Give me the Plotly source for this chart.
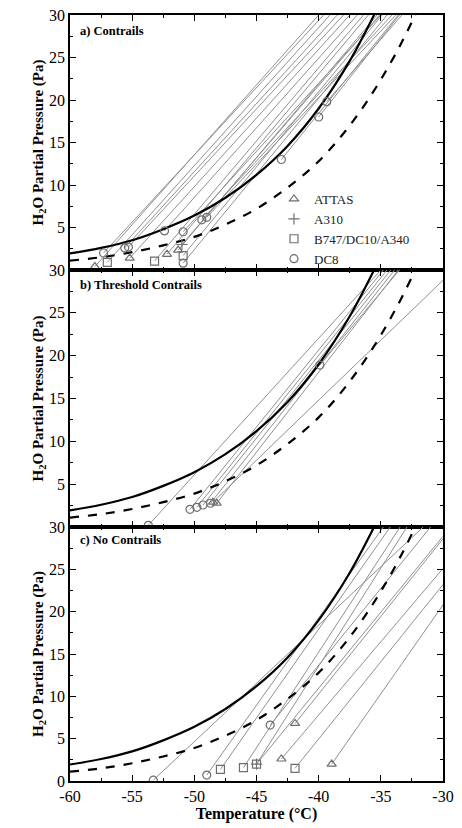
import plotly.graph_objects as go

# ---------------- data ----------------
# threshold curves
curve_T = [-60, -57.5, -55, -52.5, -50, -47.5, -45, -42.5, -40, -37.5, -35]
curve_solid = [1.95, 2.6, 3.5, 4.8, 6.4, 8.5, 11.2, 14.6, 19.0, 24.6, 31.6]
dash_T = [-60, -57.5, -55, -52.5, -50, -47.5, -45, -42.5, -40, -37.5, -35, -32.5, -30]
curve_dash = [1.1, 1.5, 2.1, 2.9, 3.9, 5.35, 7.2, 9.7, 12.8, 17.0, 22.4, 29.2, 38.0]

aircraft = ["ATTAS", "A310", "B747/DC10/A340", "DC8"]

# panel a) Contrails : start point, end point, aircraft
a_T0 = [-58.0, -57.3, -57.0, -55.6, -55.3, -55.2, -52.4, -53.2, -52.2, -51.3, -51.0,
        -50.9, -50.9, -50.9, -49.4, -49.0, -43.0, -40.0, -39.35]
a_e0 = [0.4, 2.0, 0.9, 2.6, 2.7, 1.4, 4.6, 1.05, 1.85, 2.35, 3.0,
        1.7, 0.8, 4.5, 5.9, 6.2, 13.0, 18.0, 19.8]
a_T1 = [-40.0, -39.6, -39.1, -38.5, -38.0, -37.5, -36.9, -36.4, -36.0, -35.3, -35.1,
        -34.9, -34.5, -35.0, -34.1, -33.8, -33.6, -33.5, -33.3]
a_e1 = [30] * 19
a_ac = ["ATTAS", "DC8", "B747/DC10/A340", "DC8", "DC8", "ATTAS", "DC8", "B747/DC10/A340",
        "ATTAS", "ATTAS", "A310", "B747/DC10/A340", "DC8", "DC8", "DC8", "DC8", "DC8",
        "DC8", "DC8"]

# panel b) Threshold Contrails
b_T0 = [-53.7, -50.35, -49.8, -49.3, -48.7, -48.2, -48.5, -39.9]
b_e0 = [0.2, 2.06, 2.3, 2.57, 2.77, 2.77, 2.9, 18.9]
b_T1 = [-35.0, -34.8, -34.5, -34.2, -33.9, -33.6, -30.0, -33.5]
b_e1 = [30, 30, 30, 30, 30, 30, 28.8, 30]
b_ac = ["DC8", "DC8", "DC8", "DC8", "DC8", "ATTAS", "ATTAS", "DC8"]

# panel c) No Contrails
c_T0 = [-53.3, -49.0, -47.9, -46.05, -45.0, -45.0, -43.9, -43.0, -41.9, -41.9, -38.95]
c_e0 = [0.1, 0.7, 1.37, 1.57, 2.0, 2.0, 6.6, 2.6, 6.8, 1.5, 2.0]
c_T1 = [-31.6, -34.8, -34.25, -33.45, -32.9, -30.0, -31.0, -30.0, -30.0, -30.0, -30.0]
c_e1 = [30, 30, 30, 30, 30, 28.9, 30, 25.1, 28.6, 23.2, 20.8]
c_ac = ["DC8", "DC8", "B747/DC10/A340", "B747/DC10/A340", "B747/DC10/A340", "A310",
        "DC8", "ATTAS", "ATTAS", "B747/DC10/A340", "ATTAS"]

panel_titles = ["a) Contrails", "b) Threshold Contrails", "c) No Contrails"]
x_ticks = [-60, -55, -50, -45, -40, -35, -30]
x_tick_text = ["-60", "-55", "-50", "-45", "-40", "-35", "-30"]
y_ticks_full = [0, 5, 10, 15, 20, 25, 30]
y_ticks_upper = [5, 10, 15, 20, 25, 30]

# ---------------- styling ----------------
SERIF = "Liberation Serif, Times New Roman, serif"
LINE_GRAY = "#909090"
MARK_GRAY = "#6e6e6e"
symbols = {"ATTAS": "triangle-up-open", "A310": "cross-thin-open",
           "B747/DC10/A340": "square-open", "DC8": "circle-open"}

# the page body adds an 8px offset; figure sized so it fills the 462x828 window
OFF = 8
W, H = 462 - OFF, 828 - OFF
PL, PR, PT, PB = 70, 443, 15, 781          # plot area in window pixels
L, T = PL - OFF, PT - OFF
R = W - (PR - OFF)
B = H - (PB - OFF)
plot_w = PR - PL
plot_h = PB - PT
edges = [(15, 270), (270, 527), (527, 781)]
domains = []
for top, bot in edges:
    domains.append([1 - (bot - PT) / plot_h, 1 - (top - PT) / plot_h])

fig = go.Figure()

panels = [(a_T0, a_e0, a_T1, a_e1, a_ac), (b_T0, b_e0, b_T1, b_e1, b_ac),
          (c_T0, c_e0, c_T1, c_e1, c_ac)]

for p, (T0, E0, T1, E1, AC) in enumerate(panels):
    xa = "x" if p == 0 else f"x{p+1}"
    ya = "y" if p == 0 else f"y{p+1}"
    for i in range(len(T0)):
        fig.add_trace(go.Scatter(x=[T0[i], T1[i]], y=[E0[i], E1[i]], mode="lines",
                                 line=dict(color=LINE_GRAY, width=1), xaxis=xa, yaxis=ya,
                                 showlegend=False, hoverinfo="skip"))
    fig.add_trace(go.Scatter(x=curve_T, y=curve_solid, mode="lines", line_shape="spline",
                             line=dict(color="black", width=2.2), xaxis=xa, yaxis=ya,
                             showlegend=False))
    fig.add_trace(go.Scatter(x=dash_T, y=curve_dash, mode="lines", line_shape="spline",
                             line=dict(color="black", width=2.2, dash="dash"),
                             xaxis=xa, yaxis=ya, showlegend=False))
    for ac in aircraft:
        xs = [T0[i] for i in range(len(T0)) if AC[i] == ac]
        ys = [E0[i] for i in range(len(T0)) if AC[i] == ac]
        fig.add_trace(go.Scatter(x=xs if xs else [None], y=ys if ys else [None],
                                 mode="markers", name=ac,
                                 marker=dict(symbol=symbols[ac], size=8, color=MARK_GRAY,
                                             line=dict(color=MARK_GRAY, width=1.2)),
                                 xaxis=xa, yaxis=ya, showlegend=(p == 0)))

axis_common = dict(showline=True, linecolor="black", linewidth=1.6, mirror="ticks",
                   ticks="inside", ticklen=6, tickwidth=1.2, tickcolor="black",
                   showgrid=False, zeroline=False, ticklabeloverflow="allow",
                   tickfont=dict(family=SERIF, size=16, color="black"))

layout = dict(width=W, height=H, margin=dict(l=L, r=R, t=T, b=B, autoexpand=False),
              paper_bgcolor="white", plot_bgcolor="white",
              font=dict(family=SERIF, color="black"))

for p in range(3):
    xk = "xaxis" if p == 0 else f"xaxis{p+1}"
    yk = "yaxis" if p == 0 else f"yaxis{p+1}"
    ya = "y" if p == 0 else f"y{p+1}"
    xa = "x" if p == 0 else f"x{p+1}"
    xaxis = dict(axis_common, range=[-60, -30], anchor=ya, domain=[0, 1],
                 tickmode="array", tickvals=x_ticks, ticktext=x_tick_text,
                 minor=dict(ticks="inside", ticklen=3, dtick=2.5, tick0=-60,
                            tickcolor="black", tickwidth=1),
                 showticklabels=(p == 2))
    if p == 2:
        xaxis["title"] = dict(text="<b>Temperature (°C)</b>",
                              font=dict(family=SERIF, size=16), standoff=4)
    yv = y_ticks_full if p == 2 else y_ticks_upper
    yaxis = dict(axis_common, range=[0, 30], anchor=xa, domain=domains[p],
                 tickmode="array", tickvals=yv, ticktext=[str(v) for v in yv],
                 minor=dict(ticks="inside", ticklen=3, dtick=2.5, tick0=0,
                            tickcolor="black", tickwidth=1),
                 title=dict(text="<b>H<sub>2</sub>O Partial Pressure (Pa)</b>",
                            font=dict(family=SERIF, size=15), standoff=2))
    layout[xk] = xaxis
    layout[yk] = yaxis

ann = []
label_py = [31, 285, 540]
for p in range(3):
    ann.append(dict(text=f"<b>{panel_titles[p]}</b>", xref="paper", yref="paper",
                    x=(78 - PL) / plot_w, y=1 - (label_py[p] - PT) / plot_h,
                    xanchor="left", yanchor="middle", showarrow=False,
                    font=dict(family=SERIF, size=12.5, color="black")))
layout["annotations"] = ann
layout["legend"] = dict(x=(274 - PL) / plot_w, y=1 - (184 - PT) / plot_h,
                        xanchor="left", yanchor="top", bgcolor="rgba(0,0,0,0)",
                        font=dict(family=SERIF, size=13, color="#222"),
                        tracegroupgap=0, borderwidth=0)
layout["showlegend"] = True

fig.update_layout(**layout)
fig.write_html("out.html")
